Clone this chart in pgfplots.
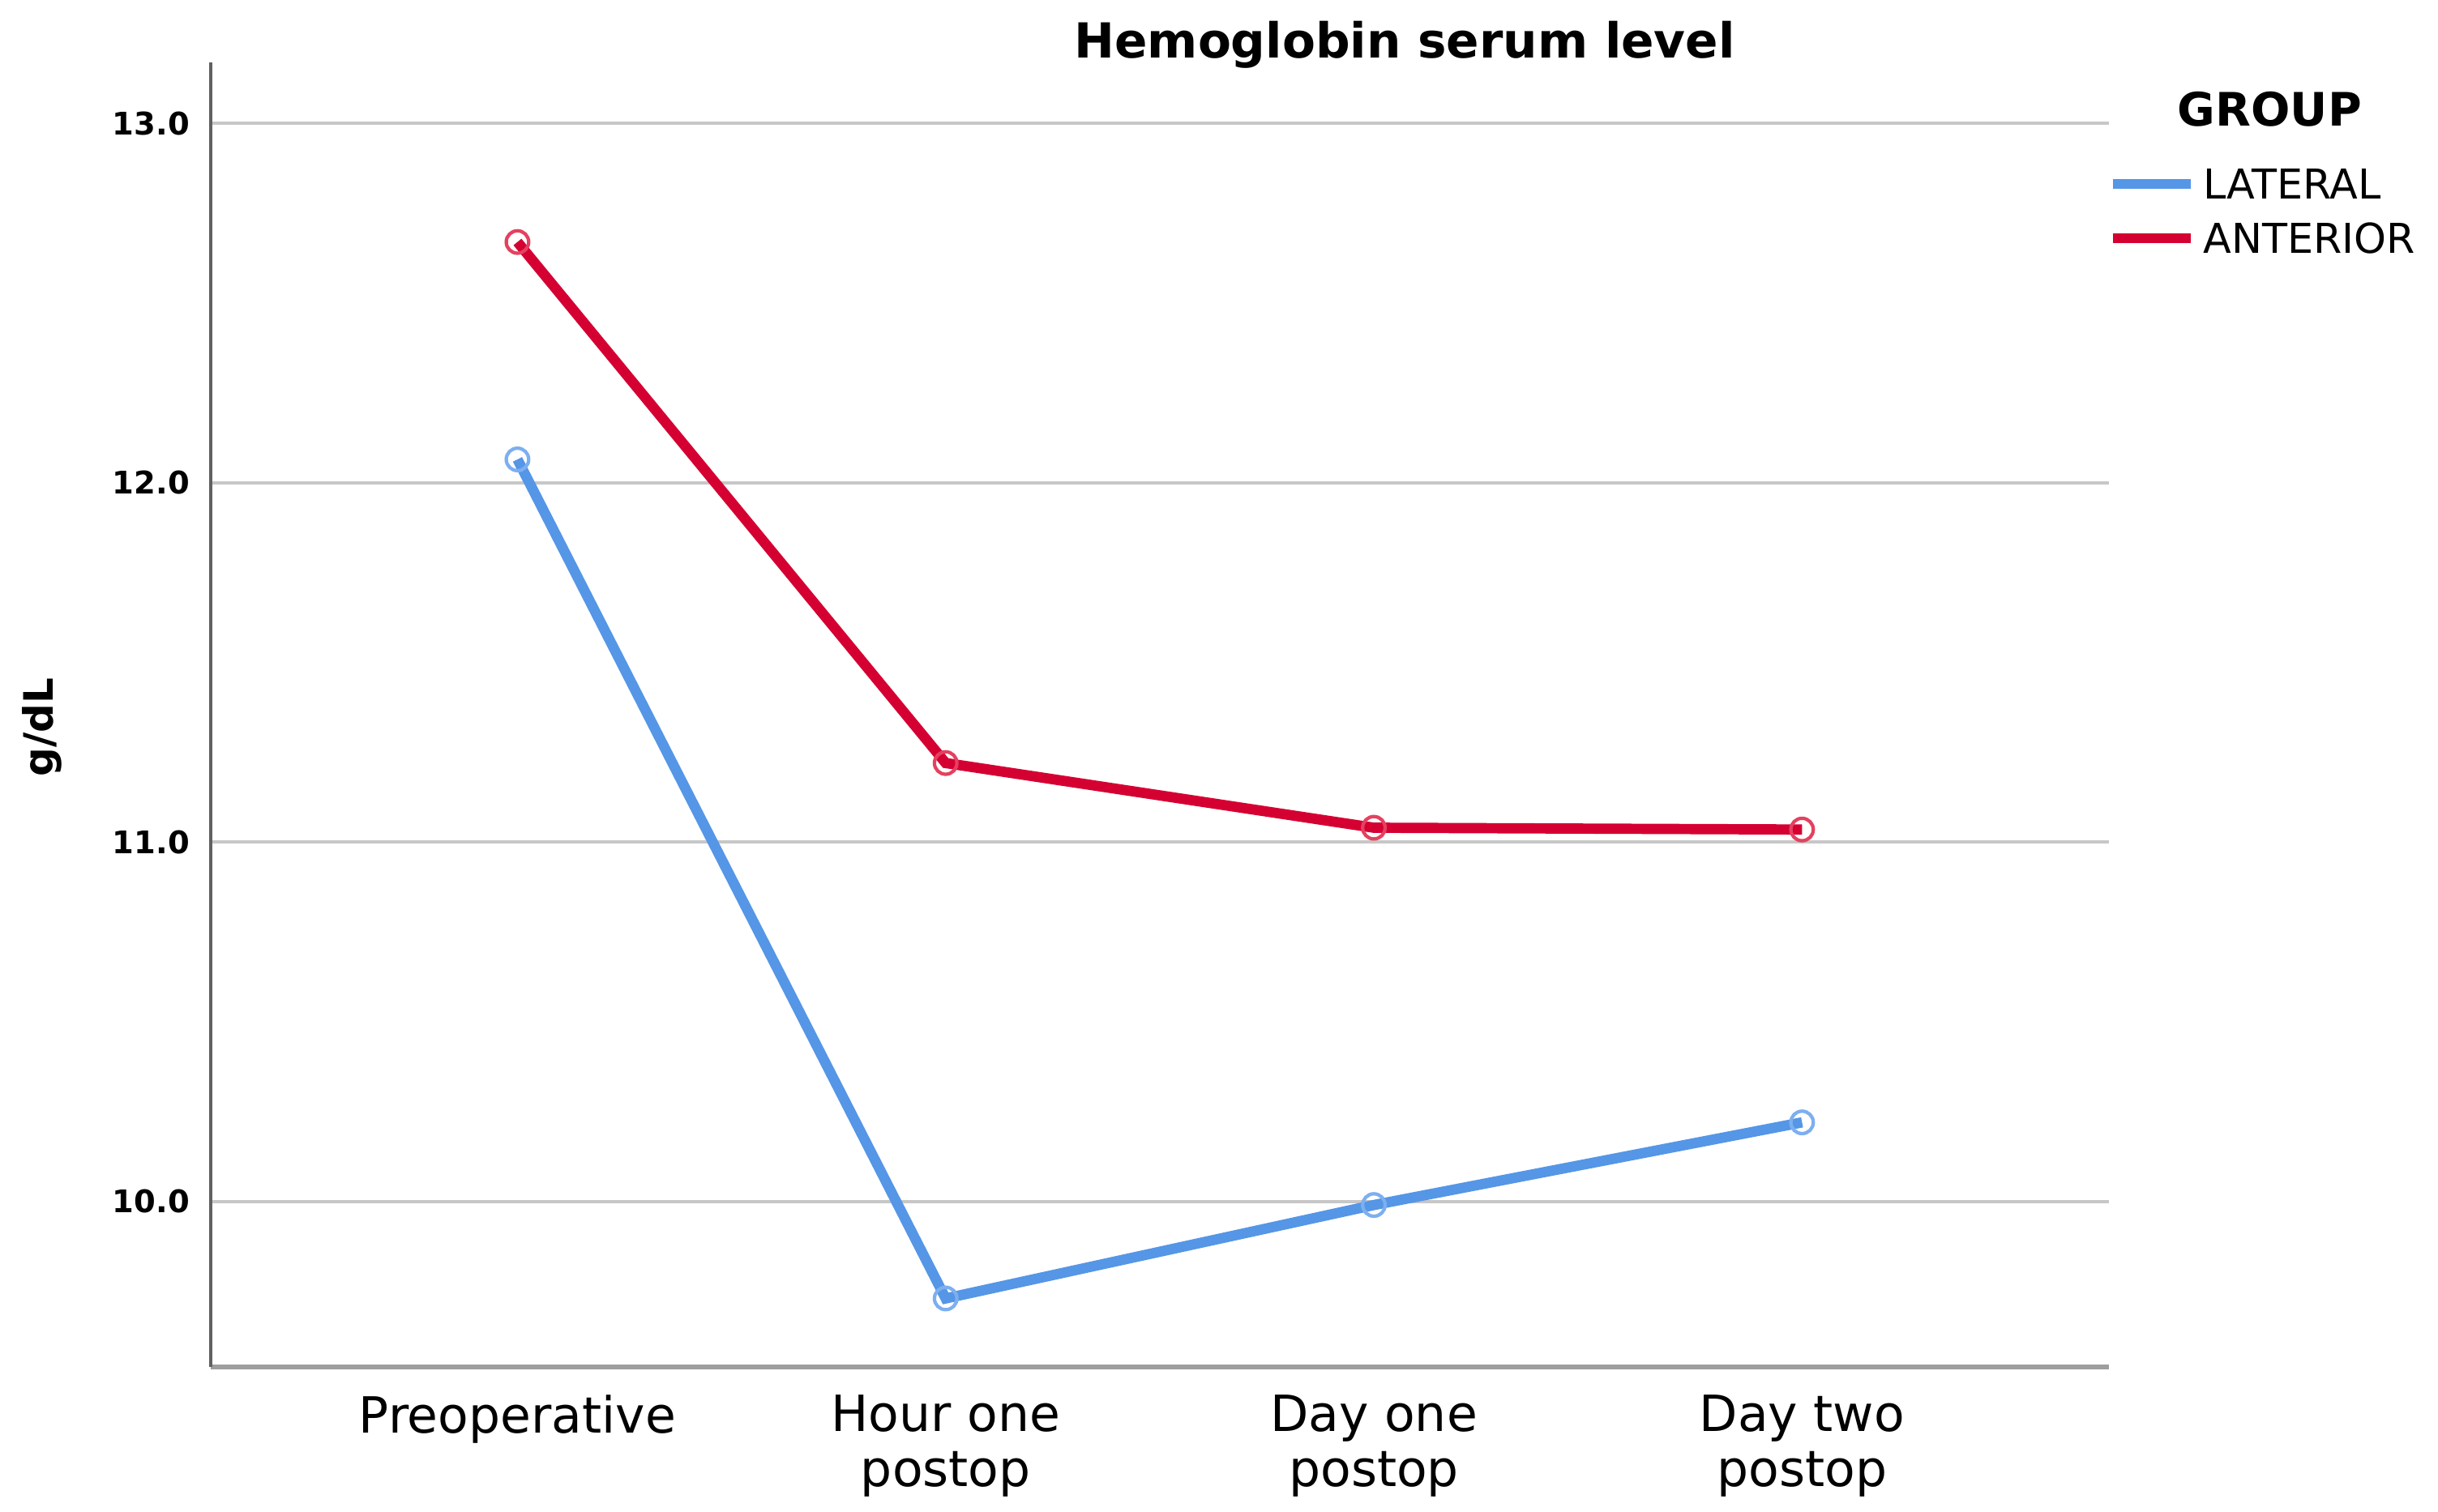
\documentclass[border=0pt]{standalone}
\usepackage{fontspec}
\setmainfont{DejaVu Sans}
\usepackage{pgfplots}
\pgfplotsset{compat=1.18}

\definecolor{latblue}{RGB}{85,150,230}
\definecolor{latmark}{RGB}{125,175,240}
\definecolor{antred}{RGB}{213,0,50}
\definecolor{antmark}{RGB}{228,65,95}

\begin{document}
\begin{tikzpicture}
\begin{axis}[
  name=ax,
  scale only axis,
  width=609pt, height=418.5pt,
  xmin=-0.717, xmax=3.717,
  ymin=9.54, ymax=13.17,
  xtick={0,1,2,3},
  xticklabels={Preoperative, {Hour one\\postop}, {Day one\\postop}, {Day two\\postop}},
  xticklabel style={align=center, anchor=north, inner sep=0pt, yshift=-9pt,
    font=\fontsize{16}{17.5}\selectfont},
  ytick={10,11,12,13},
  yticklabel style={anchor=east, inner sep=0pt, xshift=-6.5pt,
    font=\fontsize{10}{12}\selectfont\bfseries},
  /pgf/number format/assume math mode=true,
  /pgf/number format/.cd, fixed, fixed zerofill, precision=1, /pgfplots/.cd,
  major tick length=0pt,
  tick style={draw=none},
  axis x line*=bottom,
  axis y line*=left,
  x axis line style={-, draw=black!38, line width=1.5pt},
  y axis line style={-, draw=black!62, line width=1pt},
  ymajorgrids,
  grid style={draw=black!22, line width=1pt},
  clip=false,
  legend style={at={(1,1)}, anchor=north west, xshift=-0.5pt, yshift=-34pt,
    draw=none, fill=none, inner sep=0pt,
    font=\fontsize{13.2}{14}\selectfont,
    nodes={inner sep=0pt, text height=9.6pt, text depth=0pt},
    row sep=7.9pt},
  legend cell align=left,
  legend image code/.code={%
    \path[draw=none, fill=none] (0pt,-4.8pt) rectangle (29pt,4.8pt);
    \draw[#1, line width=3pt, mark=none] (0pt,0pt) -- (25pt,0pt);},
]
\addplot[color=latblue, line width=3.3pt, mark=o, mark size=3.6pt,
  mark options={draw=latmark, line width=1.1pt}]
  coordinates {(0,12.065) (1,9.73) (2,9.99) (3,10.22)};
\addlegendentry{LATERAL}
\addplot[color=antred, line width=3.3pt, mark=o, mark size=3.6pt,
  mark options={draw=antmark, line width=1.1pt}]
  coordinates {(0,12.67) (1,11.22) (2,11.04) (3,11.035)};
\addlegendentry{ANTERIOR}

\node[font=\fontsize{15.5}{17}\selectfont\bfseries, anchor=base]
  at (rel axis cs:0.629,1) [yshift=1.5pt] {Hemoglobin serum level};
\node[font=\fontsize{14.8}{16}\selectfont\bfseries, anchor=center]
  at (rel axis cs:1,1) [xshift=51.5pt, yshift=-15pt] {GROUP};
\node[font=\fontsize{13}{15}\selectfont\bfseries, rotate=90, anchor=center]
  at (rel axis cs:0,0.49) [yshift=54pt] {g/dL};
\end{axis}
\path ([shift={(-67.5pt,-46.5pt)}]ax.south west) rectangle ([shift={(105.5pt,20pt)}]ax.north east);
\end{tikzpicture}
\end{document}
